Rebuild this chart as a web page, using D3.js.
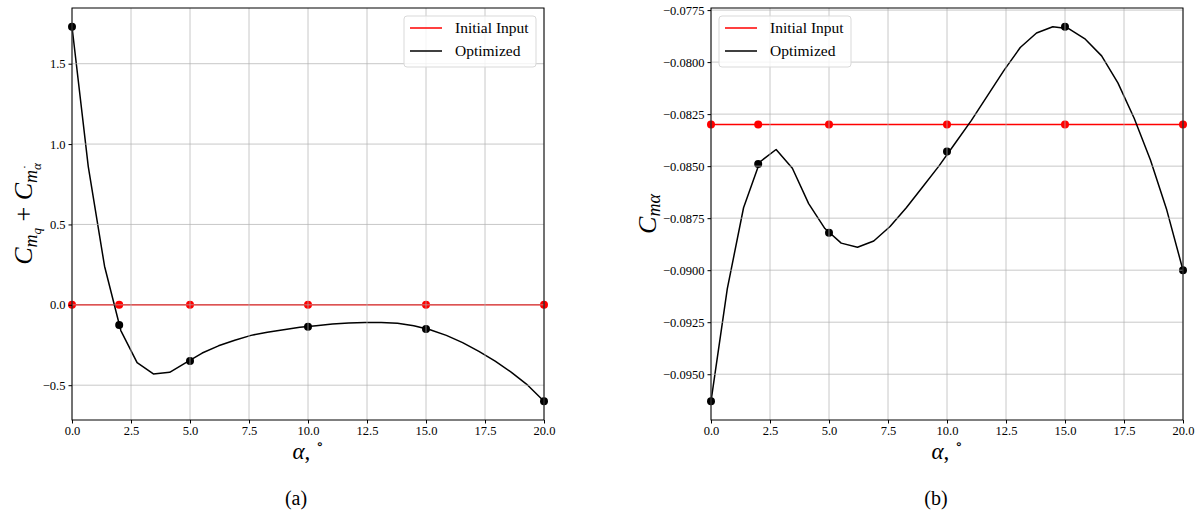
<!DOCTYPE html>
<html>
<head>
<meta charset="utf-8">
<script src="https://cdn.jsdelivr.net/npm/d3@7"></script>
<style>
  body { margin: 0; background: #fff; }
  text { font-family: "Liberation Serif", "DejaVu Serif", serif; }
</style>
</head>
<body>
<div id="fig"></div>
<script>
// angle of attack sample grids
var lineAlpha = d3.range(30).map(function(i) { return i * 20 / 29; });
var markAlpha = [0, 2, 5, 10, 15, 20];

// (a) Cmq + Cmadot
var dampOptLine = [1.73, 0.86, 0.24, -0.16, -0.36, -0.43, -0.42, -0.36, -0.30, -0.255,
  -0.22, -0.19, -0.17, -0.155, -0.14, -0.13, -0.12, -0.113, -0.11, -0.11,
  -0.115, -0.13, -0.155, -0.19, -0.235, -0.29, -0.35, -0.42, -0.50, -0.60];
var dampOptMarks = [1.73, -0.125, -0.35, -0.137, -0.15, -0.60];
var dampInitMarks = [0, 0, 0, 0, 0, 0];
var dampTicks = [-0.5, 0.0, 0.5, 1.0, 1.5];

// (b) Cm alpha
var stabOptLine = [-0.0963, -0.0909, -0.0870, -0.0848, -0.0842, -0.0851, -0.0868, -0.0880, -0.0887, -0.0889,
  -0.0886, -0.0879, -0.0870, -0.0860, -0.0850, -0.0839, -0.0828, -0.0816, -0.0804, -0.0793,
  -0.0786, -0.0783, -0.0784, -0.0789, -0.0797, -0.0810, -0.0827, -0.0847, -0.0871, -0.0900];
var stabOptMarks = [-0.0963, -0.0849, -0.0882, -0.0843, -0.0783, -0.0900];
var stabInitMarks = [-0.0830, -0.0830, -0.0830, -0.0830, -0.0830, -0.0830];
var stabTicks = [-0.0950, -0.0925, -0.0900, -0.0875, -0.0850, -0.0825, -0.0800, -0.0775];

var xTicks = [0, 2.5, 5, 7.5, 10, 12.5, 15, 17.5, 20];
var legendNames = ["Initial Input", "Optimized"];
var legendColors = ["#ff0000", "#000000"];

var serif = "'Liberation Serif', 'DejaVu Serif', serif";

var svg = d3.select("#fig").append("svg")
  .attr("width", 1201)
  .attr("height", 519);

function minus(s) { return s.replace("-", "\u2212"); }

/*****************
Function: drawPanel - draws one subplot with both series, grid, legend and labels
******************/
function drawPanel(opt)
{
  var left = opt.left, right = opt.left + 472, top = 8, bottom = 420;
  var g = svg.append("g");

  var all = opt.optLine.concat(opt.optMarks, opt.initMarks);
  var lo = d3.min(all), hi = d3.max(all), pad = (hi - lo) * 0.05;

  var x = d3.scaleLinear().domain([0, 20]).range([left, right]);
  var y = d3.scaleLinear().domain([lo - pad, hi + pad]).range([bottom, top]);

  var line = d3.line()
    .x(function(d) { return x(d[0]); })
    .y(function(d) { return y(d[1]); });

  // red initial series
  g.append("path")
    .datum(markAlpha.map(function(a, i) { return [a, opt.initMarks[i]]; }))
    .attr("d", line)
    .attr("fill", "none")
    .attr("stroke", "#ff0000")
    .attr("stroke-width", 1.5);
  g.selectAll(".initDot")
    .data(markAlpha.map(function(a, i) { return [a, opt.initMarks[i]]; }))
    .enter()
    .append("circle")
    .attr("class", "initDot")
    .attr("cx", function(d) { return x(d[0]); })
    .attr("cy", function(d) { return y(d[1]); })
    .attr("r", 4)
    .attr("fill", "#ff0000");

  // black optimized series
  g.append("path")
    .datum(lineAlpha.map(function(a, i) { return [a, opt.optLine[i]]; }))
    .attr("d", line)
    .attr("fill", "none")
    .attr("stroke", "#000")
    .attr("stroke-width", 1.5)
    .attr("stroke-linejoin", "round");
  g.selectAll(".optDot")
    .data(markAlpha.map(function(a, i) { return [a, opt.optMarks[i]]; }))
    .enter()
    .append("circle")
    .attr("class", "optDot")
    .attr("cx", function(d) { return x(d[0]); })
    .attr("cy", function(d) { return y(d[1]); })
    .attr("r", 4)
    .attr("fill", "#000");

  // grid sits on top of the data, light grey
  var grid = g.append("g").attr("stroke", "#b0b0b0").attr("stroke-opacity", 0.7).attr("stroke-width", 1);
  grid.selectAll(".vg").data(xTicks).enter().append("line")
    .attr("x1", function(d) { return x(d); }).attr("x2", function(d) { return x(d); })
    .attr("y1", top).attr("y2", bottom);
  grid.selectAll(".hg").data(opt.yTicks).enter().append("line")
    .attr("x1", left).attr("x2", right)
    .attr("y1", function(d) { return y(d); }).attr("y2", function(d) { return y(d); });

  // axes
  var xAxis = d3.axisBottom(x).tickValues(xTicks).tickSize(3.5).tickPadding(3)
    .tickFormat(function(d) { return d3.format(".1f")(d); });
  var yAxis = d3.axisLeft(y).tickValues(opt.yTicks).tickSize(3.5).tickPadding(3)
    .tickFormat(function(d) { return minus(d3.format(opt.fmt)(d)); });

  var xg = g.append("g").attr("transform", "translate(0," + bottom + ")").call(xAxis);
  var yg = g.append("g").attr("transform", "translate(" + left + ",0)").call(yAxis);
  [xg, yg].forEach(function(a) {
    a.attr("font-family", serif).attr("font-size", 12.5);
    a.select(".domain").remove();
    a.selectAll("text").attr("fill", "#000");
    a.selectAll("line").attr("stroke", "#000");
  });

  // frame
  g.append("rect")
    .attr("x", left).attr("y", top)
    .attr("width", right - left).attr("height", bottom - top)
    .attr("fill", "none").attr("stroke", "#000").attr("stroke-width", 1);

  // legend
  var lx = opt.legendX, ly = 16;
  g.append("rect")
    .attr("x", lx).attr("y", ly).attr("width", 132).attr("height", 51)
    .attr("rx", 3)
    .attr("fill", "#fff").attr("fill-opacity", 0.8)
    .attr("stroke", "#d9d9d9").attr("stroke-width", 1);
  legendNames.forEach(function(name, i) {
    var yy = ly + 12 + i * 23;
    g.append("line")
      .attr("x1", lx + 6).attr("x2", lx + 38)
      .attr("y1", yy).attr("y2", yy)
      .attr("stroke", legendColors[i]).attr("stroke-width", 1.5);
    g.append("text")
      .attr("x", lx + 51).attr("y", yy + 5)
      .attr("font-size", 15.5)
      .text(name);
  });

  // x label
  var xl = g.append("text")
    .attr("x", (left + right) / 2).attr("y", 459)
    .attr("text-anchor", "middle")
    .attr("font-size", 23);
  xl.append("tspan").attr("font-style", "italic").text("\u03b1");
  xl.append("tspan").text(", ");
  xl.append("tspan").attr("dy", -10).attr("font-size", 15).text("\u2218");

  // y label
  var yl = g.append("text")
    .attr("transform", "translate(" + opt.ylabX + "," + ((top + bottom) / 2) + ") rotate(-90)")
    .attr("text-anchor", "middle")
    .attr("font-size", 26);
  opt.ylab(yl);

  // caption
  g.append("text")
    .attr("x", opt.capX).attr("y", 505)
    .attr("text-anchor", "middle")
    .attr("font-size", 20)
    .text(opt.caption);
}

drawPanel({
  left: 72, legendX: 404, ylabX: 32, capX: 296, caption: "(a)",
  optLine: dampOptLine, optMarks: dampOptMarks, initMarks: dampInitMarks,
  yTicks: dampTicks, fmt: ".1f",
  ylab: function(t) {
    t.append("tspan").attr("font-style", "italic").text("C");
    t.append("tspan").attr("font-style", "italic").attr("font-size", 18).attr("dy", 5).text("m");
    t.append("tspan").attr("font-style", "italic").attr("font-size", 13).attr("dy", 4).text("q");
    t.append("tspan").attr("dy", -9).text(" + ");
    t.append("tspan").attr("font-style", "italic").text("C");
    t.append("tspan").attr("font-style", "italic").attr("font-size", 18).attr("dy", 5).text("m");
    t.append("tspan").attr("font-style", "italic").attr("font-size", 13).attr("dy", 4).text("\u03b1");
    t.append("tspan").attr("font-size", 13).attr("dx", -6).attr("dy", -9).text("\u02d9");
  }
});

drawPanel({
  left: 711, legendX: 719, ylabX: 656, capX: 936, caption: "(b)",
  optLine: stabOptLine, optMarks: stabOptMarks, initMarks: stabInitMarks,
  yTicks: stabTicks, fmt: ".4f",
  ylab: function(t) {
    t.append("tspan").attr("font-style", "italic").text("C");
    t.append("tspan").attr("font-style", "italic").attr("font-size", 18).attr("dy", 4).text("m\u03b1");
  }
});
</script>
</body>
</html>
